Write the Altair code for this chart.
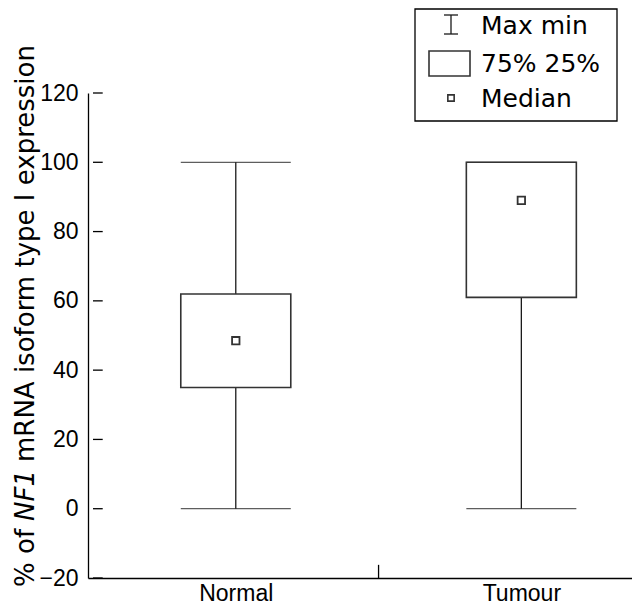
import altair as alt
import pandas as pd

# ---- data ----
groups = ["Normal", "Tumour"]
group_pos = [0.5, 1.5]
v_min = [0, 0]
v_q1 = [35, 61]
v_median = [48.5, 89]
v_q3 = [62, 100]
v_max = [100, 100]
y_ticks = [-20, 0, 20, 40, 60, 80, 100, 120]
legend_labels = ["Max min", "75% 25%", "Median"]

df = pd.DataFrame({"group": groups, "pos": group_pos, "lo": v_min, "q1": v_q1,
                   "med": v_median, "q3": v_q3, "hi": v_max})
ticks_df = pd.DataFrame({"t": y_ticks, "x0": [0.0] * len(y_ticks), "x1": [0.034] * len(y_ticks)})
one = pd.DataFrame({"a": [0]})

INK = "#1a1a1a"
LW = 1.3
LABEL_FONT = "Liberation Sans"
TEXT_FONT = "DejaVu Sans"

xscale = alt.Scale(domain=[0, 1.87], nice=False, zero=False)
yscale = alt.Scale(domain=[-20, 120], nice=False, zero=False)

xaxis = alt.Axis(values=group_pos, labelExpr="datum.value < 1 ? 'Normal' : 'Tumour'",
                 ticks=False, grid=False, title=None, labelFont=LABEL_FONT, labelFontSize=23,
                 labelColor="black", labelPadding=4, domainColor="black", domainWidth=LW)
yaxis = alt.Axis(values=y_ticks, ticks=False, grid=False, title=None, labelFont=LABEL_FONT,
                 labelFontSize=23, labelColor="black", labelPadding=10, domainColor="black",
                 domainWidth=LW)

base = alt.Chart(df)
X = alt.X("pos:Q", scale=xscale, axis=xaxis)

whisker = base.mark_rule(color=INK, strokeWidth=LW).encode(
    x=X, y=alt.Y("lo:Q", scale=yscale, axis=yaxis), y2="hi:Q")
box = base.mark_bar(size=110, fill="white", stroke="#333333", strokeWidth=1.6).encode(
    x=X, y=alt.Y("q1:Q", scale=yscale), y2="q3:Q")
cap_lo = base.mark_tick(orient="horizontal", size=110, thickness=LW, color=INK).encode(
    x=X, y=alt.Y("lo:Q", scale=yscale))
cap_hi = base.mark_tick(orient="horizontal", size=110, thickness=LW, color=INK).encode(
    x=X, y=alt.Y("hi:Q", scale=yscale))
median = base.mark_square(size=55, filled=False, fill="white", stroke="#333333",
                          strokeWidth=1.8, opacity=1).encode(
    x=X, y=alt.Y("med:Q", scale=yscale))

yt = alt.Chart(ticks_df).mark_rule(color="black", strokeWidth=LW).encode(
    x=alt.X("x0:Q", scale=xscale), x2="x1:Q", y=alt.Y("t:Q", scale=yscale))

mid_tick = alt.Chart(pd.DataFrame({"m": [1.0], "b": [-20], "t": [-16.2]})).mark_rule(
    color="black", strokeWidth=LW).encode(
    x=alt.X("m:Q", scale=xscale), y=alt.Y("b:Q", scale=yscale), y2="t:Q")

# ---- y title in three pieces (NF1 italic) ----
TS = 26
def title_piece(txt, y, style="normal"):
    return alt.Chart(one).mark_text(text=txt, angle=270, align="left", baseline="middle",
                                    font=TEXT_FONT, fontSize=TS, fontStyle=style,
                                    color="black").encode(x=alt.value(-62), y=alt.value(y))

t1 = title_piece("% of", 494)
t2 = title_piece("NF1", 428, "italic")
t3 = title_piece("mRNA isoform type I expression", 369)

# ---- legend box ----
lg_box = alt.Chart(one).mark_rect(fill="white", stroke="black", strokeWidth=LW).encode(
    x=alt.value(327), x2=alt.value(529), y=alt.value(-84), y2=alt.value(28))
lg_wv = alt.Chart(one).mark_rule(color=INK, strokeWidth=LW).encode(
    x=alt.value(363), y=alt.value(-78), y2=alt.value(-59))
lg_wt = alt.Chart(one).mark_rule(color=INK, strokeWidth=LW).encode(
    x=alt.value(356), x2=alt.value(370), y=alt.value(-78))
lg_wb = alt.Chart(one).mark_rule(color=INK, strokeWidth=LW).encode(
    x=alt.value(356), x2=alt.value(370), y=alt.value(-59))
lg_rect = alt.Chart(one).mark_rect(fill="white", stroke="#333333", strokeWidth=1.6).encode(
    x=alt.value(341), x2=alt.value(382), y=alt.value(-42), y2=alt.value(-17))
lg_sq = alt.Chart(one).mark_square(size=40, filled=False, fill="white", stroke="#333333",
                                   strokeWidth=1.6, opacity=1).encode(
    x=alt.value(363), y=alt.value(5))

def lg_text(txt, y):
    return alt.Chart(one).mark_text(text=txt, align="left", baseline="middle", font=TEXT_FONT,
                                    fontSize=25, color="black").encode(
        x=alt.value(393), y=alt.value(y))

lt1 = lg_text(legend_labels[0], -67)
lt2 = lg_text(legend_labels[1], -29)
lt3 = lg_text(legend_labels[2], 6)

chart = alt.layer(
    whisker, cap_lo, cap_hi, box, median, yt, mid_tick,
    t1, t2, t3,
    lg_box, lg_wv, lg_wt, lg_wb, lg_rect, lg_sq, lt1, lt2, lt3,
).properties(
    width=544, height=485,
    autosize=alt.AutoSizeParams(type="none"),
    padding={"left": 80, "top": 85, "right": 0, "bottom": 27},
    background="white",
).configure_view(stroke=None)

chart.save("out.html", embed_options={"renderer": "svg", "actions": False})
